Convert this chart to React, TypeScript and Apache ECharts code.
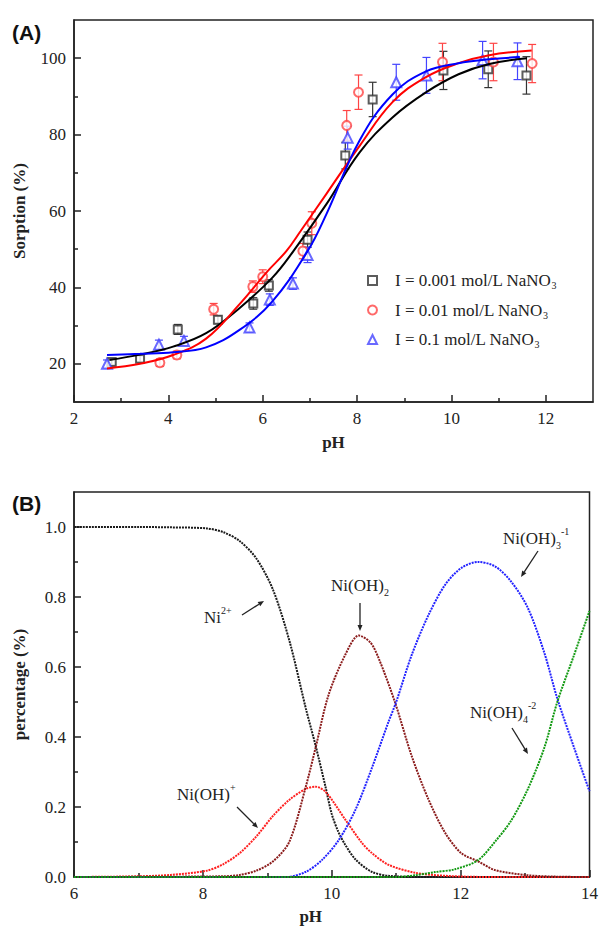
import React, { useEffect, useRef } from 'react';
import * as echarts from 'echarts';

const SERIF = 'Liberation Serif';
const SANS = 'Liberation Sans';

// ---------- Panel A : sorption data ----------
const legendNames = ['I = 0.001 mol/L NaNO3', 'I = 0.01 mol/L NaNO3', 'I = 0.1 mol/L NaNO3'];

const phLow = [2.8, 3.4, 4.2, 5.05, 5.8, 6.13, 6.95, 7.75, 8.33, 9.83, 10.78, 11.59];
const sorpLow = [20.5, 21.3, 29.0, 31.5, 35.8, 40.5, 52.5, 74.5, 89.2, 96.8, 97.1, 95.5];
const errLow = [0.8, 0.8, 1.3, 1.0, 1.5, 1.5, 2.0, 3.5, 4.5, 5.0, 4.8, 4.9];

const phMid = [3.82, 4.18, 4.96, 5.79, 6.0, 6.85, 7.04, 7.78, 8.03, 9.81, 10.89, 11.71];
const sorpMid = [20.3, 22.3, 34.3, 40.2, 42.8, 49.5, 56.8, 82.4, 91.1, 99.0, 99.0, 98.6];
const errMid = [1.0, 1.0, 1.5, 1.5, 1.8, 2.0, 3.0, 3.9, 4.5, 4.9, 4.9, 5.0];

const phHigh = [2.7, 3.8, 4.33, 5.72, 6.15, 6.64, 6.95, 7.8, 8.83, 9.47, 10.66, 11.4];
const sorpHigh = [20.0, 25.0, 26.0, 29.5, 36.8, 41.0, 48.5, 79.2, 93.7, 95.5, 99.5, 99.2];
const errHigh = [1.0, 1.2, 1.2, 1.2, 1.5, 1.5, 2.0, 3.0, 4.7, 4.7, 4.9, 4.8];

// fitted curves
const fitPhLow = [2.75, 3.4, 4.1, 4.8, 5.5, 6.2, 6.65, 7.35, 8.05, 8.75, 9.45, 10.15, 10.8, 11.6];
const fitLow = [21.0, 22.4, 24.5, 28.0, 34.5, 42.5, 49.5, 61.8, 75.3, 84.5, 91.0, 95.8, 98.5, 100.0];
const fitPhMid = [2.7, 3.4, 4.1, 4.8, 5.5, 6.1, 6.5, 6.8, 7.35, 8.05, 8.75, 9.45, 10.15, 10.8, 11.7];
const fitMid = [18.8, 20.0, 22.3, 26.6, 35.5, 44.2, 49.5, 54.7, 64.5, 77.0, 88.5, 95.0, 98.7, 100.8, 102.0];
const fitPhHigh = [2.7, 3.4, 4.1, 4.8, 5.5, 6.2, 6.95, 7.35, 8.05, 8.75, 9.45, 10.15, 10.8, 11.45];
const fitHigh = [22.3, 22.6, 23.0, 24.3, 28.8, 36.3, 49.5, 59.2, 78.4, 90.5, 96.5, 98.7, 99.7, 100.3];

// ---------- Panel B : speciation ----------
const phNi = [6, 7, 7.5, 8.06, 8.32, 8.57, 8.83, 9.09, 9.35, 9.6, 9.75, 9.9, 10.0, 10.1, 10.2, 10.37, 10.62, 10.9, 11.5, 14];
const fracNi = [1, 1, 0.999, 0.996, 0.985, 0.96, 0.91, 0.82, 0.67, 0.48, 0.375, 0.26, 0.18, 0.13, 0.095, 0.05, 0.015, 0.003, 0, 0];

const phNiOH = [6, 7, 7.5, 8.06, 8.32, 8.57, 8.83, 9.09, 9.34, 9.6, 9.75, 9.91, 10.21, 10.47, 10.62, 10.88, 11.3, 11.8, 12.5, 14];
const fracNiOH = [0, 0.002, 0.006, 0.018, 0.037, 0.068, 0.116, 0.175, 0.22, 0.252, 0.258, 0.242, 0.164, 0.097, 0.069, 0.035, 0.012, 0.003, 0, 0];

const phNiOH2 = [6, 8.3, 8.57, 8.83, 9.09, 9.34, 9.6, 9.75, 9.95, 10.21, 10.42, 10.6, 10.73, 10.98, 11.24, 11.5, 11.76, 12.01, 12.27, 12.53, 13.04, 13.5, 14];
const fracNiOH2 = [0, 0.002, 0.006, 0.018, 0.045, 0.1, 0.26, 0.37, 0.52, 0.635, 0.69, 0.67, 0.624, 0.5, 0.346, 0.222, 0.126, 0.068, 0.045, 0.02, 0.005, 0.001, 0];

const phNiOH3 = [6, 9.3, 9.6, 9.85, 10.11, 10.37, 10.62, 10.88, 11.0, 11.24, 11.5, 11.76, 12.01, 12.27, 12.53, 12.78, 13.04, 13.3, 13.5, 13.76, 14];
const fracNiOH3 = [0, 0, 0.015, 0.049, 0.106, 0.193, 0.31, 0.443, 0.5, 0.634, 0.748, 0.835, 0.883, 0.9, 0.888, 0.845, 0.77, 0.64, 0.51, 0.37, 0.245];

const phNiOH4 = [6, 11.0, 11.3, 11.6, 11.91, 12.27, 12.53, 12.78, 13.04, 13.3, 13.5, 13.76, 14];
const fracNiOH4 = [0, 0, 0.005, 0.014, 0.022, 0.048, 0.1, 0.16, 0.25, 0.37, 0.5, 0.634, 0.76];

const xTicksA = [2, 4, 6, 8, 10, 12];
const xMinorA = [3, 5, 7, 9, 11];
const yTicksA = [20, 40, 60, 80, 100];
const yMinorA = [30, 50, 70, 90];
const xTicksB = [6, 8, 10, 12, 14];
const xMinorB = [7, 9, 11, 13];
const yTicksB = [0, 0.2, 0.4, 0.6, 0.8, 1.0];
const yMinorB = [0.1, 0.3, 0.5, 0.7, 0.9];

const AX = '#222';

function isIn(v: number, list: number[]) {
  return list.some((t) => Math.abs(t - v) < 1e-6);
}

function mainAxis(gridIndex: number, min: number, max: number, step: number, ticks: number[], digits: number, rest: any) {
  return {
    type: 'value', gridIndex, min, max, interval: step,
    axisLine: { show: true, onZero: false, lineStyle: { color: AX, width: 1.5 } },
    axisTick: { show: true, inside: true, length: 7, customValues: ticks, lineStyle: { color: AX, width: 1.5 } },
    axisLabel: {
      show: true, margin: 8, showMinLabel: true, showMaxLabel: true, hideOverlap: false,
      color: AX, fontSize: 17, fontFamily: SERIF,
      formatter: (v: number) => (isIn(v, ticks) ? v.toFixed(digits) : ''),
    },
    splitLine: { show: false },
    ...rest,
  };
}
function minorAxis(gridIndex: number, min: number, max: number, ticks: number[], position: string) {
  return {
    type: 'value', gridIndex, min, max, position,
    axisLine: { show: false, onZero: false },
    axisTick: { show: true, inside: true, length: 4, customValues: ticks, lineStyle: { color: AX, width: 1.5 } },
    axisLabel: { show: false },
    splitLine: { show: false },
  };
}

function errSeries(name: string, ph: number[], v: number[], e: number[], color: string) {
  return {
    type: 'custom', name: name + ' err', xAxisIndex: 0, yAxisIndex: 0,
    data: ph.map((p, i) => [p, v[i] - e[i], v[i] + e[i]]),
    encode: { x: 0, y: [1, 2] },
    renderItem: (params: any, api: any) => {
      const x = api.value(0), lo = api.value(1), hi = api.value(2);
      const a = api.coord([x, lo]);
      const b = api.coord([x, hi]);
      const w = 4;
      const style = { stroke: color, lineWidth: 1.2 };
      return {
        type: 'group',
        children: [
          { type: 'line', shape: { x1: a[0], y1: a[1], x2: b[0], y2: b[1] }, style },
          { type: 'line', shape: { x1: a[0] - w, y1: a[1], x2: a[0] + w, y2: a[1] }, style },
          { type: 'line', shape: { x1: b[0] - w, y1: b[1], x2: b[0] + w, y2: b[1] }, style },
        ],
      };
    },
  };
}

function arrow(x1: number, y1: number, x2: number, y2: number) {
  const ang = Math.atan2(y2 - y1, x2 - x1);
  const L = 6, W = 2.5;
  const bx = x2 - L * Math.cos(ang), by = y2 - L * Math.sin(ang);
  const nx = -Math.sin(ang) * W, ny = Math.cos(ang) * W;
  return [
    { type: 'line', shape: { x1, y1, x2: bx, y2: by }, style: { stroke: AX, lineWidth: 1.3 } },
    { type: 'polygon', shape: { points: [[x2, y2], [bx + nx, by + ny], [bx - nx, by - ny]] }, style: { fill: AX } },
  ];
}

const annRich = {
  n: { font: `17px "${SERIF}"`, fill: AX, lineHeight: 24 },
  b: { font: `10px "${SERIF}"`, fill: AX, verticalAlign: 'bottom' },
  p: { font: `10px "${SERIF}"`, fill: AX, verticalAlign: 'top' },
};
function ann(x: number, y: number, text: string) {
  return { type: 'text', x, y, style: { text, rich: annRich, font: `17px "${SERIF}"`, verticalAlign: 'middle', align: 'left' } };
}

export default function App() {
  const ref = useRef<HTMLDivElement>(null);
  useEffect(() => {
    document.body.style.margin = '0';
    if (!ref.current) return;
    const chart = echarts.init(ref.current, null, { renderer: 'svg' });
    const pair = (xs: number[], ys: number[]) => xs.map((x, i) => [x, ys[i]]);
    const fitLine = (name: string, xs: number[], ys: number[], color: string) => ({
      type: 'line', name, xAxisIndex: 0, yAxisIndex: 0, data: pair(xs, ys), smooth: 0.4,
      showSymbol: false, symbol: 'none', lineStyle: { color, width: 2 }, z: 3,
    });
    const specLine = (name: string, xs: number[], ys: number[], color: string) => ({
      type: 'line', name, xAxisIndex: 2, yAxisIndex: 2, data: pair(xs, ys), smooth: 0.3,
      showSymbol: false, symbol: 'none', lineStyle: { color, width: 2, type: [2, 1] },
    });
    const nameStyle = { fontSize: 17, fontWeight: 'bold', color: AX, fontFamily: SERIF };
    const option: any = {
      animation: false,
      textStyle: { fontFamily: SERIF },
      grid: [
        { left: 74, top: 20, width: 519, height: 382, show: true, borderColor: AX, borderWidth: 1.5 },
        { left: 74, top: 492, width: 518, height: 385, show: true, borderColor: AX, borderWidth: 1.5 },
      ],
      xAxis: [
        mainAxis(0, 2, 13, 1, xTicksA, 0, { name: 'pH', nameLocation: 'middle', nameGap: 32, nameTextStyle: nameStyle }),
        minorAxis(0, 2, 13, xMinorA, 'bottom'),
        mainAxis(1, 6, 14, 2, xTicksB, 0, { name: 'pH', nameLocation: 'middle', nameGap: 31, nameTextStyle: { ...nameStyle, padding: [0, 42, 0, 0] } }),
        minorAxis(1, 6, 14, xMinorB, 'bottom'),
      ],
      yAxis: [
        mainAxis(0, 10, 110, 10, yTicksA, 0, { position: 'left', name: 'Sorption (%)', nameLocation: 'middle', nameGap: 46, nameRotate: 90, nameTextStyle: nameStyle }),
        minorAxis(0, 10, 110, yMinorA, 'left'),
        mainAxis(1, 0, 1.1, 0.1, yTicksB, 1, { position: 'left', name: 'percentage (%)', nameLocation: 'middle', nameGap: 46, nameRotate: 90, nameTextStyle: nameStyle }),
        minorAxis(1, 0, 1.1, yMinorB, 'left'),
      ],
      legend: {
        data: legendNames,
        orient: 'vertical',
        left: 362,
        top: 267,
        itemWidth: 9,
        itemHeight: 9,
        itemGap: 11,
        formatter: (name: string) => `{t|${name.slice(0, -1)}}{s|3}`,
        textStyle: {
          color: AX,
          rich: {
            t: { fontSize: 17, fontFamily: SERIF, color: AX, lineHeight: 20, padding: [0, 0, 0, 13] },
            s: { fontSize: 10, fontFamily: SERIF, color: AX, verticalAlign: 'bottom' },
          },
        },
      },
      series: [
        errSeries(legendNames[0], phLow, sorpLow, errLow, '#333333'),
        errSeries(legendNames[1], phMid, sorpMid, errMid, '#ff4444'),
        errSeries(legendNames[2], phHigh, sorpHigh, errHigh, '#4444ff'),
        { type: 'scatter', name: legendNames[0], xAxisIndex: 0, yAxisIndex: 0, data: pair(phLow, sorpLow), symbol: 'emptyRect', symbolSize: 8, itemStyle: { color: '#333333', borderWidth: 1.2 } },
        { type: 'scatter', name: legendNames[1], xAxisIndex: 0, yAxisIndex: 0, data: pair(phMid, sorpMid), symbol: 'emptyCircle', symbolSize: 9, itemStyle: { color: '#ff4444', borderWidth: 1.2 } },
        { type: 'scatter', name: legendNames[2], xAxisIndex: 0, yAxisIndex: 0, data: pair(phHigh, sorpHigh), symbol: 'emptyTriangle', symbolSize: 10, itemStyle: { color: '#4444ff', borderWidth: 1.2 } },
        fitLine('fit 0.001', fitPhLow, fitLow, '#000000'),
        fitLine('fit 0.01', fitPhMid, fitMid, '#ff0000'),
        fitLine('fit 0.1', fitPhHigh, fitHigh, '#0000ff'),
        specLine('Ni2+', phNi, fracNi, '#1a1a1a'),
        specLine('Ni(OH)+', phNiOH, fracNiOH, '#ff2020'),
        specLine('Ni(OH)2', phNiOH2, fracNiOH2, '#8b1c1c'),
        specLine('Ni(OH)3-', phNiOH3, fracNiOH3, '#2222ff'),
        specLine('Ni(OH)4 2-', phNiOH4, fracNiOH4, '#119911'),
      ],
      graphic: [
        { type: 'text', x: 12, y: 32, style: { text: '(A)', font: `bold 21px "${SANS}"`, fill: '#111', verticalAlign: 'middle' } },
        { type: 'text', x: 12, y: 503, style: { text: '(B)', font: `bold 21px "${SANS}"`, fill: '#111', verticalAlign: 'middle' } },
        ann(204, 617, '{n|Ni}{p|2+}'),
        ann(331, 585, '{n|Ni(OH)}{b|2}'),
        ann(503, 538, '{n|Ni(OH)}{b|3}{p|-1}'),
        ann(470, 712, '{n|Ni(OH)}{b|4}{p|-2}'),
        ann(177, 794, '{n|Ni(OH)}{p|+}'),
        ...arrow(242, 615, 264, 601),
        ...arrow(360, 603, 360, 631),
        ...arrow(538, 551, 521, 577),
        ...arrow(512, 728, 528, 754),
        ...arrow(237, 807, 258, 828),
      ],
    };
    chart.setOption(option);
    return () => chart.dispose();
  }, []);
  return <div ref={ref} style={{ width: 601, height: 928 }} />;
}
